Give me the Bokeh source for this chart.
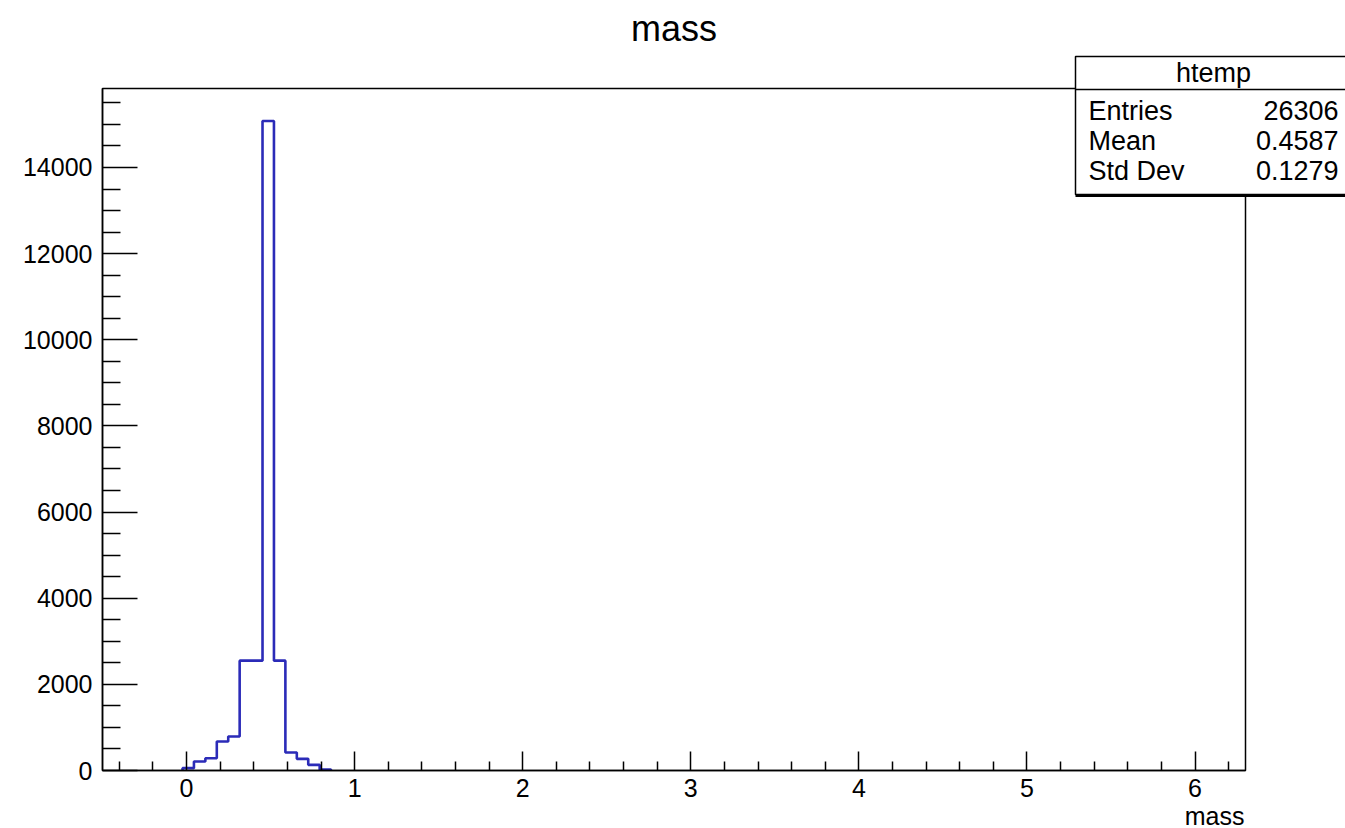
from bokeh.plotting import figure
from bokeh.models import Range1d, FixedTicker, Label, BoxAnnotation
from bokeh.embed import file_html
from bokeh.resources import INLINE

# ---- data ----
title_text = "mass"
x_label = "mass"
hist_name = "htemp"
stat_names = ["Entries", "Mean", "Std Dev"]
stat_values = ["26306", "0.4587", "0.1279"]

bin_edges = [-0.024, 0.044, 0.112, 0.180, 0.248, 0.316, 0.384, 0.452,
             0.520, 0.588, 0.656, 0.724, 0.792, 0.860]
bin_counts = [54, 209, 286, 673, 790, 2550, 2550, 15080, 2550, 418, 270, 131, 20]

hist_x_range = (-0.5, 6.3)      # histogram axis range
hist_y_max = 15834              # 1.05 * maximum bin

x_major = [0, 1, 2, 3, 4, 5, 6]
x_minor = [-0.4, -0.2, 0.2, 0.4, 0.6, 0.8, 1.2, 1.4, 1.6, 1.8, 2.2, 2.4, 2.6, 2.8,
           3.2, 3.4, 3.6, 3.8, 4.2, 4.4, 4.6, 4.8, 5.2, 5.4, 5.6, 5.8, 6.2]
y_major = [0, 2000, 4000, 6000, 8000, 10000, 12000, 14000]
y_minor = [500, 1000, 1500, 2500, 3000, 3500, 4500, 5000, 5500, 6500, 7000, 7500,
           8500, 9000, 9500, 10500, 11000, 11500, 12500, 13000, 13500, 14500, 15000, 15500]

FONT = "Liberation Sans"
W, H = 1345, 828
# pixel frame of the ROOT pad (page coordinates)
FL, FR, FT, FB = 102, 1245, 88, 770

sx = (FR - FL) / (hist_x_range[1] - hist_x_range[0])
sy = (FB - FT) / hist_y_max
x_lo = hist_x_range[0] - FL / sx
x_hi = hist_x_range[0] + (W - FL) / sx
y_lo = -(H - FB) / sy
y_hi = FB / sy

p = figure(width=W, height=H,
           x_range=Range1d(x_lo, x_hi), y_range=Range1d(y_lo, y_hi),
           output_backend="svg", toolbar_location=None,
           min_border_left=0, min_border_right=0,
           min_border_top=0, min_border_bottom=0)

p.xgrid.visible = False
p.ygrid.visible = False
p.outline_line_color = None
p.background_fill_color = "white"
p.border_fill_color = "white"

# histogram outline
xs = [bin_edges[0]]
ys = [0]
for i, c in enumerate(bin_counts):
    xs += [bin_edges[i], bin_edges[i + 1]]
    ys += [c, c]
xs.append(bin_edges[-1])
ys.append(0)
p.line(xs, ys, line_color="#2b2bb8", line_width=2.6)

# frame (top / right edges; left / bottom come from the axes)
p.add_layout(BoxAnnotation(left=hist_x_range[0], right=hist_x_range[1],
                           bottom=0, top=hist_y_max,
                           fill_alpha=0, line_color="black", line_alpha=1,
                           line_width=1.5))

# axes
p.xaxis.fixed_location = 0
p.yaxis.fixed_location = hist_x_range[0]
p.xaxis.bounds = hist_x_range
p.yaxis.bounds = (0, hist_y_max)
p.xaxis.ticker = FixedTicker(ticks=x_major, minor_ticks=x_minor)
p.yaxis.ticker = FixedTicker(ticks=y_major, minor_ticks=y_minor)
for ax in (p.xaxis, p.yaxis):
    ax.axis_line_color = "black"
    ax.axis_line_width = 1.5
    ax.major_tick_line_color = "black"
    ax.minor_tick_line_color = "black"
    ax.major_tick_line_width = 1.5
    ax.minor_tick_line_width = 1.5
    ax.major_tick_out = 0
    ax.minor_tick_out = 0
    ax.major_label_text_font = FONT
    ax.major_label_text_font_size = "25px"
    ax.major_label_text_color = "black"
p.xaxis.major_tick_in = 19
p.xaxis.minor_tick_in = 9
p.yaxis.major_tick_in = 35
p.yaxis.minor_tick_in = 18
p.xaxis.major_label_standoff = 8
p.yaxis.major_label_standoff = 10

def put(text, x, y, size, align="left", level="annotation"):
    p.add_layout(Label(x=x, y=H - y, x_units="screen", y_units="screen",
                       text=text, text_font=FONT, text_font_size=size,
                       text_align=align, text_baseline="alphabetic",
                       text_color="black", level=level))

# title and x axis title
put(title_text, 673.5, 28, "36px", "center")
put(x_label, 1244, 815, "25px", "right")

# stats box
box_l, box_r, box_t, box_b, box_div = 1075, 1360, 56, 194, 89
scr = dict(left_units="screen", right_units="screen",
           top_units="screen", bottom_units="screen", level="overlay")
p.add_layout(BoxAnnotation(left=box_l, right=box_r, top=H - box_b, bottom=H - box_b - 2.5,
                           fill_color="black", fill_alpha=1, line_alpha=0, **scr))
p.add_layout(BoxAnnotation(left=box_l, right=box_r, top=H - box_t, bottom=H - box_b,
                           fill_color="white", fill_alpha=1,
                           line_color="black", line_alpha=1, line_width=1.5, **scr))
p.add_layout(BoxAnnotation(left=box_l, right=box_r, top=H - box_div + 0.75,
                           bottom=H - box_div - 0.75,
                           fill_color="black", fill_alpha=1, line_alpha=0, **scr))
put(hist_name, 1213, 72, "27px", "center", "overlay")
row_base = [110, 140, 170]
for name, val, yy in zip(stat_names, stat_values, row_base):
    put(name, 1088, yy, "27px", "left", "overlay")
    put(val, 1338, yy, "27px", "right", "overlay")

open("out.html", "w").write(file_html(p, INLINE))
